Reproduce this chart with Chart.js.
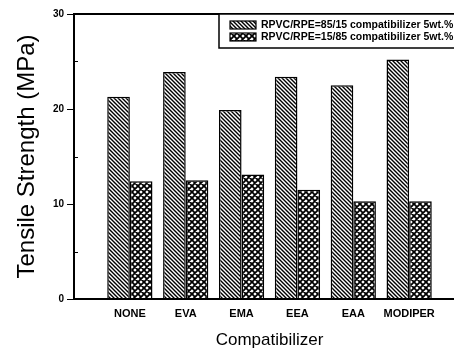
<!DOCTYPE html>
<html>
<head>
<meta charset="utf-8">
<script src="https://cdn.jsdelivr.net/npm/chart.js@4"></script>
<style>
    html, body { margin: 0; padding: 0; background: #fff; overflow: hidden; }
    #wrap { width: 470px; height: 351px; }
</style>
</head>
<body>
<div id="wrap"><canvas id="tensileChart" width="470" height="351"></canvas></div>
<script>
// data
const categories = ["", "NONE", "EVA", "EMA", "EEA", "EAA", "MODIPER", ""];
const blend8515 = [null, 21.3, 23.9, 19.9, 23.4, 22.5, 25.2, null];
const blend1585 = [null, 12.4, 12.5, 13.1, 11.5, 10.3, 10.3, null];
const yTicks = [0, 10, 20, 30];
const seriesLabels = [
    "RPVC/RPE=85/15 compatibilizer 5wt.%",
    "RPVC/RPE=15/85 compatibilizer 5wt.%"
];

const FONT = "'Liberation Sans', Arial, sans-serif";

// diagonal hatch  \\\\
function makeHatch() {
    const c = document.createElement("canvas");
    c.width = 4; c.height = 4;
    const g = c.getContext("2d");
    g.fillStyle = "#fff"; g.fillRect(0, 0, 4, 4);
    g.strokeStyle = "#000"; g.lineWidth = 1.4;
    g.beginPath();
    g.moveTo(-1, -1); g.lineTo(5, 5);
    g.moveTo(-1, 3); g.lineTo(1, 5);
    g.moveTo(3, -1); g.lineTo(5, 1);
    g.stroke();
    return g.createPattern(c, "repeat");
}

// cross hatch
function makeCross() {
    const c = document.createElement("canvas");
    c.width = 6; c.height = 6;
    const g = c.getContext("2d");
    g.fillStyle = "#fff"; g.fillRect(0, 0, 6, 6);
    g.strokeStyle = "#000"; g.lineWidth = 1.8;
    g.beginPath();
    g.moveTo(-1, -1); g.lineTo(7, 7);
    g.moveTo(-1, 5); g.lineTo(1, 7);
    g.moveTo(5, -1); g.lineTo(7, 1);
    g.moveTo(-1, 7); g.lineTo(7, -1);
    g.moveTo(-1, 1); g.lineTo(1, -1);
    g.moveTo(5, 7); g.lineTo(7, 5);
    g.stroke();
    return g.createPattern(c, "repeat");
}

const hatch = makeHatch();
const cross = makeCross();

// frame + minor ticks + boxed legend
const framePlugin = {
    id: "frame",
    afterDatasetsDraw(chart) {
        const { ctx, chartArea: a, scales } = chart;
        ctx.save();
        ctx.strokeStyle = "#000";
        ctx.lineWidth = 2;
        ctx.strokeRect(a.left, a.top, a.right - a.left, a.bottom - a.top);
        ctx.lineWidth = 1;
        [5, 15, 25].forEach(v => {
            const y = Math.round(scales.y.getPixelForValue(v)) + 0.5;
            ctx.beginPath(); ctx.moveTo(a.left, y); ctx.lineTo(a.left + 4, y); ctx.stroke();
        });

        // legend
        const lx = 219, ly = a.top, lw = 260, lh = 34;
        ctx.fillStyle = "#fff";
        ctx.fillRect(lx, ly, lw, lh);
        ctx.lineWidth = 1.5;
        ctx.strokeRect(lx, ly, lw, lh);
        ctx.font = "bold 10.5px " + FONT;
        ctx.textBaseline = "middle";
        chart.data.datasets.forEach((ds, i) => {
            const y = ly + 11 + i * 12;
            ctx.fillStyle = ds.backgroundColor;
            ctx.fillRect(230, y - 4, 26, 8);
            ctx.lineWidth = 1.2;
            ctx.strokeRect(230, y - 4, 26, 8);
            ctx.fillStyle = "#000";
            ctx.fillText(ds.label, 261, y);
        });
        ctx.restore();
    }
};

const tensileCtx = document.getElementById("tensileChart").getContext("2d");
new Chart(tensileCtx, {
    type: "bar",
    data: {
        labels: categories,
        datasets: [
            {
                label: seriesLabels[0],
                data: blend8515,
                backgroundColor: hatch,
                borderColor: "#000",
                borderWidth: 1.5,
            },
            {
                label: seriesLabels[1],
                data: blend1585,
                backgroundColor: cross,
                borderColor: "#000",
                borderWidth: 1.5,
            },
        ],
    },
    options: {
        responsive: false,
        animation: false,
        devicePixelRatio: 1,
        layout: { padding: { top: 14, right: 5, left: 0, bottom: 0 } },
        categoryPercentage: 0.81,
        barPercentage: 1,
        plugins: {
            legend: { display: false },
            tooltip: { enabled: false },
        },
        scales: {
            x: {
                offset: false,
                grid: { display: false },
                border: { display: false },
                ticks: {
                    color: "#000",
                    font: { family: FONT, size: 11, weight: "bold" },
                    padding: 0,
                    maxRotation: 0,
                    autoSkip: false,
                },
                title: {
                    display: true,
                    text: "Compatibilizer",
                    color: "#000",
                    font: { family: FONT, size: 17 },
                    padding: { top: 8, bottom: 0 },
                },
                afterFit(scale) { scale.height = 52; },
            },
            y: {
                min: 0,
                max: 30,
                afterBuildTicks(scale) { scale.ticks = yTicks.map(v => ({ value: v })); },
                grid: {
                    drawOnChartArea: false,
                    color: "#000",
                    tickLength: 7,
                    lineWidth: 1,
                },
                border: { display: false },
                ticks: {
                    color: "#000",
                    font: { family: FONT, size: 10, weight: "bold" },
                    padding: 3,
                },
                title: {
                    display: true,
                    text: "Tensile Strength (MPa)",
                    color: "#000",
                    font: { family: FONT, size: 24 },
                    padding: { top: 13, bottom: 0 },
                },
                afterFit(scale) { scale.width = 74; },
            },
        },
    },
    plugins: [framePlugin],
});
</script>
</body>
</html>
